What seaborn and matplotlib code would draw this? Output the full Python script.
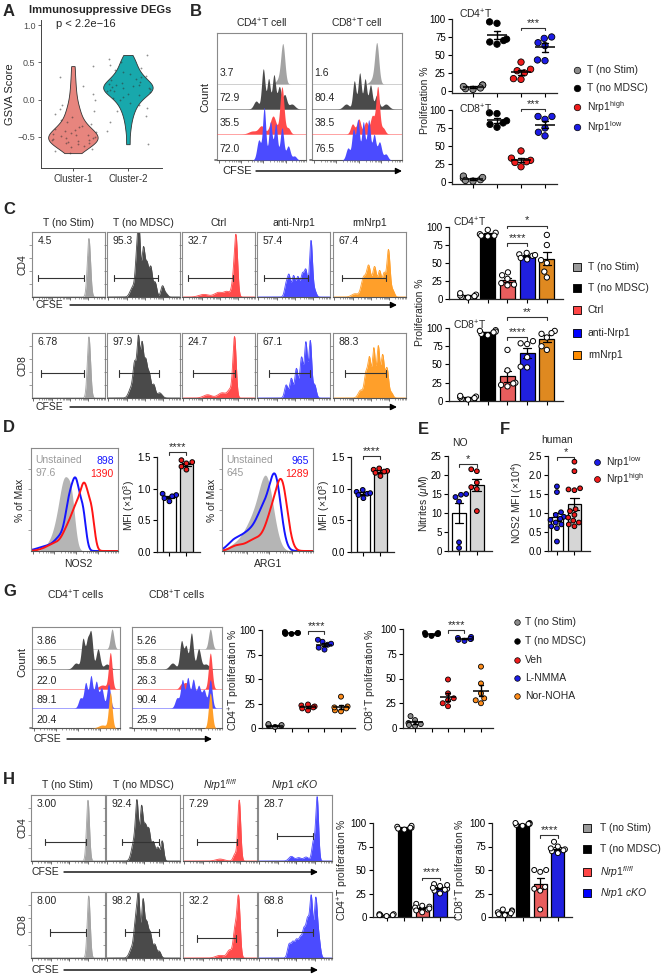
import warnings
warnings.filterwarnings('ignore')
import numpy as np
import pandas as pd
import matplotlib
matplotlib.use('Agg')
import matplotlib.pyplot as plt
import seaborn as sns

# ====================== DATA ======================
A_clusters = ['Cluster-1', 'Cluster-2']
A_cluster1 = [-0.72, -0.69, -0.66, -0.64, -0.62, -0.6, -0.59, -0.58, -0.57, -0.56, -0.55, -0.54,
              -0.53, -0.52, -0.51, -0.5, -0.49, -0.48, -0.47, -0.46, -0.45, -0.44, -0.42, -0.41,
              -0.39, -0.37, -0.35, -0.33, -0.3, -0.27, -0.24, -0.2, -0.16, -0.12, -0.07, 0.0,
              0.08, 0.18, 0.3, 0.45]
A_cluster2 = [-0.6, -0.42, -0.3, -0.22, -0.16, -0.11, -0.07, -0.04, -0.01, 0.02, 0.04, 0.06,
              0.08, 0.1, 0.11, 0.12, 0.13, 0.14, 0.15, 0.16, 0.17, 0.18, 0.19, 0.2, 0.21, 0.22,
              0.24, 0.26, 0.28, 0.3, 0.32, 0.34, 0.37, 0.4, 0.43, 0.47, 0.51, 0.55, 0.6]

B_groups = ['T (no Stim)', 'T (no MDSC)', 'Nrp1high', 'Nrp1low']
B_cd4 = [[8, 3, 2, 6, 8, 4], [65, 72, 70, 68, 94, 96], [30, 40, 28, 25, 16, 17], [73, 75, 42, 67, 63, 43]]
B_cd8 = [[3, 6, 1, 5, 8, 2], [76, 95, 96, 82, 85, 80], [43, 33, 30, 27, 21, 28], [91, 87, 91, 75, 64, 69]]
B_flow_numbers = [['3.7', '72.9', '35.5', '72.0'], ['1.6', '80.4', '38.5', '76.5']]
B_flow_peaks = [
    [[(0.74, 38, 0.02), (0.70, 5, 0.03)],
     [(0.44, 8, 0.025), (0.52, 40, 0.017), (0.58, 30, 0.016), (0.64, 34, 0.017), (0.70, 22, 0.018), (0.76, 14, 0.02), (0.84, 5, 0.03)],
     [(0.40, 3, 0.04), (0.50, 8, 0.03), (0.63, 18, 0.03), (0.73, 47, 0.02), (0.80, 6, 0.02)],
     [(0.47, 20, 0.02), (0.53, 52, 0.016), (0.60, 38, 0.017), (0.66, 36, 0.017), (0.73, 32, 0.018), (0.80, 14, 0.02), (0.87, 4, 0.02)]],
    [[(0.72, 39, 0.02), (0.68, 5, 0.03)],
     [(0.38, 5, 0.03), (0.47, 28, 0.016), (0.53, 36, 0.016), (0.59, 30, 0.016), (0.65, 24, 0.017), (0.72, 14, 0.02), (0.82, 5, 0.03)],
     [(0.45, 10, 0.02), (0.52, 15, 0.02), (0.60, 12, 0.02), (0.67, 18, 0.02), (0.73, 47, 0.018), (0.79, 6, 0.02)],
     [(0.40, 12, 0.02), (0.46, 30, 0.016), (0.51, 40, 0.016), (0.57, 38, 0.016), (0.63, 40, 0.017), (0.69, 25, 0.017), (0.75, 18, 0.02), (0.82, 6, 0.02)]],
]

C_titles = ['T (no Stim)', 'T (no MDSC)', 'Ctrl', 'anti-Nrp1', 'rmNrp1']
C_groups = ['T (no Stim)', 'T (no MDSC)', 'Ctrl', 'anti-Nrp1', 'rmNrp1']
C_cd4 = [[3, 5, 8, 2, 6, 4], [96, 92, 90, 88, 87, 88], [37, 33, 20, 19, 28, 22], [62, 64, 57, 60, 55, 61], [89, 75, 54, 50, 38, 30]]
C_cd8 = [[3, 5, 6, 4, 2, 7], [97, 95, 92, 94, 90, 96], [70, 42, 25, 20, 22, 24], [82, 78, 79, 46, 47, 60], [96, 93, 92, 87, 75, 70]]
C_numbers = [['4.5', '95.3', '32.7', '57.4', '67.4'], ['6.78', '97.9', '24.7', '67.1', '88.3']]
C_gates = [[(0.08, 0.71), (0.10, 0.70), (0.08, 0.70), (0.09, 0.70), (0.12, 0.72)],
           [(0.13, 0.71), (0.16, 0.71), (0.15, 0.72), (0.16, 0.72), (0.17, 0.72)]]
C_gate_y = [0.29, 0.38]
C_peaks = [
    [[(0.78, 0.90, 0.02)],
     [(0.35, 0.15, 0.03), (0.41, 0.6, 0.02), (0.44, 0.86, 0.017), (0.50, 0.75, 0.02), (0.55, 0.45, 0.018), (0.60, 0.45, 0.02), (0.66, 0.22, 0.02), (0.76, 0.17, 0.02), (0.81, 0.05, 0.02)],
     [(0.30, 0.04, 0.06), (0.50, 0.07, 0.05), (0.62, 0.08, 0.04), (0.70, 0.2, 0.02), (0.74, 0.92, 0.02)],
     [(0.40, 0.2, 0.02), (0.44, 0.3, 0.018), (0.50, 0.32, 0.02), (0.56, 0.3, 0.02), (0.62, 0.33, 0.02), (0.67, 0.4, 0.02), (0.74, 0.86, 0.018), (0.79, 0.1, 0.02)],
     [(0.30, 0.05, 0.04), (0.42, 0.3, 0.03), (0.49, 0.45, 0.025), (0.57, 0.46, 0.025), (0.64, 0.38, 0.02), (0.70, 0.35, 0.02), (0.76, 0.72, 0.02), (0.82, 0.1, 0.02)]],
    [[(0.78, 0.94, 0.02)],
     [(0.33, 0.15, 0.03), (0.38, 0.5, 0.02), (0.43, 0.89, 0.017), (0.48, 0.8, 0.018), (0.53, 0.55, 0.02), (0.58, 0.35, 0.02), (0.64, 0.2, 0.02), (0.72, 0.08, 0.03)],
     [(0.35, 0.05, 0.05), (0.55, 0.08, 0.05), (0.66, 0.12, 0.03), (0.72, 0.92, 0.02)],
     [(0.40, 0.2, 0.02), (0.47, 0.3, 0.02), (0.54, 0.45, 0.02), (0.61, 0.62, 0.02), (0.67, 0.84, 0.018), (0.73, 0.87, 0.018), (0.79, 0.2, 0.02)],
     [(0.38, 0.12, 0.03), (0.45, 0.35, 0.02), (0.50, 0.6, 0.02), (0.56, 0.75, 0.018), (0.62, 0.78, 0.018), (0.68, 0.65, 0.02), (0.74, 0.45, 0.02), (0.80, 0.08, 0.02)]],
]

D_groups = ['Nrp1low', 'Nrp1high']
D_nos2 = [[0.90, 0.88, 0.92, 0.85, 0.80], [1.45, 1.40, 1.35, 1.30, 1.42]]
D_arg1 = [[0.98, 0.95, 0.92, 0.90, 0.85, 0.93], [1.32, 1.30, 1.28, 1.25, 1.20, 1.27]]
D_nos2_hist = [[(0.20, 0.05, 0.05), (0.30, 0.2, 0.05), (0.39, 0.62, 0.05), (0.47, 0.35, 0.035)],
               [(0.20, 0.05, 0.1), (0.35, 0.12, 0.06), (0.44, 0.38, 0.04), (0.52, 0.6, 0.04), (0.60, 0.3, 0.03)],
               [(0.30, 0.08, 0.1), (0.42, 0.15, 0.05), (0.52, 0.35, 0.05), (0.62, 0.57, 0.045), (0.70, 0.25, 0.03)]]
D_arg1_hist = [[(0.20, 0.08, 0.1), (0.35, 0.25, 0.08), (0.49, 0.65, 0.07)],
               [(0.12, 0.06, 0.06), (0.30, 0.18, 0.1), (0.47, 0.35, 0.07), (0.59, 0.62, 0.055)],
               [(0.15, 0.04, 0.06), (0.38, 0.12, 0.1), (0.55, 0.3, 0.06), (0.66, 0.6, 0.055)]]
D_nos2_text = ['97.6', '898', '1390']
D_arg1_text = ['645', '965', '1289']

E_low = [15.0, 14.2, 14.8, 13.0, 2.3, 0.8]
E_high = [21.5, 21.0, 18.0, 16.8, 16.3, 10.5]
F_low = [1.7, 1.55, 1.02, 0.95, 0.9, 0.85, 0.82, 0.75, 0.7, 0.65, 0.6, 0.25]
F_high = [2.35, 2.1, 1.62, 1.6, 1.65, 1.1, 1.05, 0.95, 0.88, 0.8, 0.75, 0.7, 0.65]

G_groups = ['T (no Stim)', 'T (no MDSC)', 'Veh', 'L-NMMA', 'Nor-NOHA']
G_cd4 = [[2, 3, 1, 4, 2, 3], [97, 97, 96, 98, 97, 96], [22, 24, 23, 21, 18, 20], [90, 88, 85, 82, 80, 86], [32, 22, 20, 18, 17, 21]]
G_cd8 = [[12, 8, 5, 3, 2, 4], [95, 96, 94, 95, 93, 96], [49, 35, 30, 28, 25, 22], [92, 91, 90, 89, 90, 88], [62, 45, 35, 30, 28, 25]]
G_flow_numbers = [['3.86', '96.5', '22.0', '89.1', '20.4'], ['5.26', '95.8', '26.3', '90.4', '25.9']]
G_flow_peaks = [
    [[(0.91, 20, 0.018)],
     [(0.50, 6, 0.03), (0.58, 30, 0.018), (0.63, 25, 0.016), (0.67, 36, 0.018), (0.75, 20, 0.02), (0.85, 5, 0.03)],
     [(0.80, 4, 0.04), (0.89, 36, 0.018)],
     [(0.55, 10, 0.02), (0.61, 25, 0.018), (0.67, 32, 0.018), (0.73, 26, 0.018), (0.79, 20, 0.02), (0.87, 24, 0.018)],
     [(0.80, 3, 0.04), (0.89, 35, 0.018)]],
    [[(0.87, 20, 0.018)],
     [(0.45, 6, 0.03), (0.55, 28, 0.018), (0.60, 22, 0.016), (0.66, 36, 0.018), (0.74, 20, 0.02), (0.82, 5, 0.03)],
     [(0.55, 5, 0.02), (0.60, 6, 0.02), (0.87, 36, 0.018)],
     [(0.50, 10, 0.02), (0.56, 28, 0.018), (0.62, 30, 0.018), (0.68, 28, 0.018), (0.74, 22, 0.02), (0.80, 18, 0.02), (0.87, 28, 0.018)],
     [(0.87, 35, 0.018)]],
]

H_titles = ['T (no Stim)', 'T (no MDSC)', r'$\mathit{Nrp1}^{\mathit{fl/fl}}$', r'$\mathit{Nrp1\ cKO}$']
H_groups = ['T (no Stim)', 'T (no MDSC)', 'Nrp1fl/fl', 'Nrp1 cKO']
H_cd4 = [[2, 3, 1, 2, 3, 2], [96, 95, 93, 97, 94, 95], [14, 12, 10, 8, 5, 11, 9, 7], [35, 33, 30, 28, 25, 34, 31, 29]]
H_cd8 = [[8, 5, 3, 2, 7, 6, 4], [100, 99, 98, 100, 97, 99], [50, 50, 48, 30, 32, 28, 8], [80, 75, 72, 70, 68, 73, 71]]
H_numbers = [['3.00', '92.4', '7.29', '28.7'], ['8.00', '98.2', '32.2', '68.8']]
H_gates = [[(0.19, 0.74), (0.21, 0.71), (0.19, 0.73), (0.26, 0.74)],
           [(0.25, 0.74), (0.26, 0.71), (0.19, 0.72), (0.26, 0.74)]]
H_gate_y = [[0.29, 0.29, 0.29, 0.38], [0.39, 0.39, 0.30, 0.39]]
H_peaks = [
    [[(0.77, 0.92, 0.018)],
     [(0.38, 0.3, 0.03), (0.42, 0.77, 0.018), (0.48, 0.79, 0.018), (0.53, 0.5, 0.02), (0.58, 0.45, 0.02), (0.64, 0.28, 0.02), (0.70, 0.2, 0.02), (0.76, 0.3, 0.018)],
     [(0.50, 0.03, 0.05), (0.70, 0.1, 0.02), (0.76, 0.92, 0.018)],
     [(0.45, 0.07, 0.03), (0.55, 0.05, 0.03), (0.65, 0.06, 0.03), (0.75, 0.3, 0.02), (0.80, 0.95, 0.017)]],
    [[(0.78, 0.94, 0.018)],
     [(0.35, 0.15, 0.03), (0.40, 0.5, 0.02), (0.44, 0.9, 0.017), (0.50, 0.85, 0.018), (0.55, 0.5, 0.02), (0.60, 0.35, 0.02), (0.66, 0.2, 0.02), (0.72, 0.1, 0.02)],
     [(0.50, 0.04, 0.05), (0.63, 0.12, 0.03), (0.70, 0.4, 0.02), (0.75, 0.92, 0.02)],
     [(0.42, 0.2, 0.02), (0.47, 0.22, 0.02), (0.52, 0.25, 0.02), (0.57, 0.28, 0.02), (0.62, 0.4, 0.02), (0.67, 0.55, 0.02), (0.72, 0.9, 0.018), (0.78, 0.85, 0.018), (0.82, 0.3, 0.02)]],
]

# ====================== STYLE ======================
sns.set_theme(style='ticks')
plt.rcParams['font.family'] = ['Liberation Sans', 'DejaVu Sans']
plt.rcParams['mathtext.fontset'] = 'custom'
plt.rcParams['mathtext.rm'] = 'Liberation Sans'
plt.rcParams['mathtext.it'] = 'Liberation Sans:italic'
plt.rcParams['mathtext.bf'] = 'Liberation Sans:bold'
plt.rcParams['axes.linewidth'] = 0.9

W, H = 661, 977
fig = plt.figure(figsize=(W / 100, H / 100), dpi=100)

GRAY, DARK, RED, BLUE, ORANGE = '#a3a3a3', '#4a4a4a', '#ff4b4b', '#4b4bff', '#ff9f2a'
DOT_GRAY, DOT_RED, DOT_BLUE, DOT_ORANGE = '#8c8c8c', '#ee1c1c', '#1c1ce6', '#ff8c1a'
BAR_COLS = ['#9a9a9a', '#000000', '#ff4646', '#0000ff', '#ff8c00']
TS = 7
WSCALE = 1.12  # rendering smoothness of flow peaks


def ax_px(l, t, r, b):
    return fig.add_axes([l / W, 1 - b / H, (r - l) / W, (b - t) / H])


def long(groups, values):
    rows = [(g, v) for g, vals in zip(groups, values) for v in vals]
    return pd.DataFrame(rows, columns=['grp', 'val'])


XG = np.linspace(0, 1, 600)


def curve(peaks):
    y = np.zeros_like(XG)
    for c, h, w in peaks:
        w = w * WSCALE
        y = y + h * np.exp(-0.5 * ((XG - c) / w) ** 2)
    return y


DEC = [0.02, 0.27, 0.52, 0.77]
MINOR = [d + 0.25 * np.log10(k) for d in DEC for k in range(2, 10) if d + 0.25 * np.log10(k) < 1]


def flow_ax(l, t, r, b, left_ticks=True):
    ax = ax_px(l, t, r, b)
    ax.set_xlim(0, 1)
    for s in ax.spines.values():
        s.set_color('#8a8a8a')
        s.set_linewidth(0.8)
    ax.spines['bottom'].set_color('#555555')
    ax.set_xticks(DEC)
    ax.set_xticks(MINOR, minor=True)
    ax.tick_params(axis='x', which='major', length=2.5, width=0.6, labelbottom=False, color='#555555')
    ax.tick_params(axis='x', which='minor', length=1.3, width=0.4, color='#555555')
    ax.set_yticks([0.2, 0.4, 0.6, 0.8] if left_ticks else [])
    ax.tick_params(axis='y', length=2, width=0.5, labelleft=False, color='#777777')
    ax.patch.set_facecolor('white')
    return ax


def single_flow(l, t, r, b, peaks, color, number, gate, gy):
    ax = flow_ax(l, t, r, b)
    ax.set_ylim(0, 1)
    ax.fill_between(XG, 0, curve(peaks), color=color, lw=0)
    ax.plot(XG, curve(peaks), color=color, lw=0.6)
    x1, x2 = gate
    ax.plot([x1, x2], [gy, gy], color='#333333', lw=0.8)
    ax.plot([x1, x1], [gy - 0.05, gy + 0.05], color='#333333', lw=0.8)
    ax.plot([x2, x2], [gy - 0.05, gy + 0.05], color='#333333', lw=0.8)
    ax.text(0.08, 0.86, number, transform=ax.transAxes, fontsize=7.5, va='center', ha='left')
    return ax


def stacked_flow(l, t, r, b, peaks_list, colors, numbers, baselines, top, tx, toff, fs):
    ax = flow_ax(l, t, r, b)
    ax.set_ylim(0, top)
    for i, (pk, col, base, num) in enumerate(zip(peaks_list, colors, baselines, numbers)):
        y = curve(pk)
        ax.plot([0, 1], [base, base], color=col, lw=0.6, alpha=0.6, zorder=2 + 2 * i)
        ax.fill_between(XG, base, base + y, color=col, lw=0, zorder=3 + 2 * i)
        ax.text(tx, base + toff, num, fontsize=fs, va='center', ha='left', zorder=20)
    return ax


def prism(ax, ylim, yticks, xlim, fmt=None, labels=None):
    sns.despine(ax=ax)
    ax.set_ylim(*ylim)
    ax.set_yticks(yticks)
    if labels is not None:
        ax.set_yticklabels(labels)
    ax.set_xlim(*xlim)
    ax.set_xlabel('')
    ax.set_ylabel('')
    ax.tick_params(labelsize=TS, length=3, width=0.8, pad=1.5, labelbottom=False, colors='black')
    ax.patch.set_alpha(0)


def dotpanel(ax, groups, values, cols, size, mw):
    df = long(groups, values)
    sns.swarmplot(data=df, x='grp', y='val', hue='grp', order=groups, hue_order=groups,
                  palette=cols, edgecolor='black', linewidth=0.6, size=size, legend=False,
                  ax=ax, clip_on=False, zorder=3)
    sns.pointplot(data=df, x='grp', y='val', order=groups, errorbar='se', color='black',
                  markers='_', markersize=mw, markeredgewidth=1.1, linestyle='none',
                  capsize=0.25, err_kws={'linewidth': 1.0}, ax=ax, zorder=4)


def barpanel(ax, groups, values, bar_cols, dot_cols, size, width=0.76, cap=0.4):
    df = long(groups, values)
    sns.barplot(data=df, x='grp', y='val', hue='grp', order=groups, hue_order=groups,
                palette=bar_cols, errorbar='se', capsize=cap,
                err_kws={'color': 'black', 'linewidth': 0.9}, edgecolor='black',
                linewidth=0.9, width=width, legend=False, ax=ax)
    sns.swarmplot(data=df, x='grp', y='val', hue='grp', order=groups, hue_order=groups,
                  palette=dot_cols, edgecolor='black', linewidth=0.7, size=size, legend=False,
                  ax=ax, clip_on=False, zorder=5)


def bracket(ax, x1, x2, y, h, text, fs=8):
    ax.plot([x1, x1, x2, x2], [y - h, y, y, y - h], color='#333333', lw=0.8, clip_on=False)
    ax.text((x1 + x2) / 2, y, text, ha='center', va='bottom', fontsize=fs, clip_on=False)


# ====================== PANEL A ======================
axA = ax_px(41, 20, 162, 168)
dfA = long(A_clusters, [A_cluster1, A_cluster2])
sns.violinplot(data=dfA, x='grp', y='val', hue='grp', order=A_clusters, hue_order=A_clusters,
               palette=['#F8766D', '#00BFC4'], cut=0, inner=None, linewidth=0.6,
               linecolor='#333333', width=0.9, density_norm='width', bw_adjust=0.7,
               legend=False, ax=axA)
sns.stripplot(data=dfA, x='grp', y='val', order=A_clusters, color='#333333', size=1.3,
              jitter=0.42, alpha=0.55, ax=axA, zorder=4)
axA.set_ylim(-0.92, 1.07)
axA.set_xlim(-0.58, 1.62)
axA.set_yticks([-0.5, 0.0, 0.5, 1.0])
axA.set_yticklabels(['\u22120.5', '0.0', '0.5', '1.0'])
axA.set_xlabel('')
axA.set_ylabel('GSVA Score', fontsize=8, labelpad=2)
sns.despine(ax=axA)
axA.tick_params(labelsize=6.5, length=2.5, width=0.6, pad=1.5, colors='#4d4d4d')
axA.tick_params(axis='x', labelsize=7, colors='#333333')
for s in ['left', 'bottom']:
    axA.spines[s].set_color('#444444')
    axA.spines[s].set_linewidth(0.7)
axA.patch.set_alpha(0)

# ====================== PANEL B ======================
B_boxes = [(217, 33, 306, 160), (312, 33, 402, 160)]
for bi, (l, t, r, b) in enumerate(B_boxes):
    stacked_flow(l, t, r, b, B_flow_peaks[bi], [GRAY, DARK, RED, BLUE], B_flow_numbers[bi],
                 [76, 51, 26, 0], 127, 0.03, 11, 7.5)

B_dot_cols = [DOT_GRAY, 'black', DOT_RED, DOT_BLUE]
axB1 = ax_px(452, 19, 557, 93)
dotpanel(axB1, B_groups, B_cd4, B_dot_cols, 4.6, 15)
prism(axB1, (-3, 100), [0, 25, 50, 75, 100], (-0.875, 3.5))
bracket(axB1, 2, 3, 88, 3, '***')
axB2 = ax_px(452, 110, 557, 184)
dotpanel(axB2, B_groups, B_cd8, B_dot_cols, 4.6, 15)
prism(axB2, (-3, 100), [0, 25, 50, 75, 100], (-0.875, 3.5))
bracket(axB2, 2, 3, 101, 3, '***')

# ====================== PANEL C ======================
C_x = [32, 107, 182, 257, 333]
C_rows = [(232, 297), (333, 398)]
C_cols = [GRAY, DARK, RED, BLUE, ORANGE]
for ri, (t, b) in enumerate(C_rows):
    for ci, l in enumerate(C_x):
        single_flow(l, t, l + 73, b, C_peaks[ri][ci], C_cols[ci], C_numbers[ri][ci],
                    C_gates[ri][ci], C_gate_y[ri])

axC1 = ax_px(449, 227, 563, 299)
barpanel(axC1, C_groups, C_cd4, BAR_COLS, ['white'] * 5, 3.8)
prism(axC1, (0, 100), [0, 25, 50, 75, 100], (-0.97, 4.82))
bracket(axC1, 2, 4, 102, 4, '*')
bracket(axC1, 2, 3, 78, 4, '****')
axC2 = ax_px(449, 328, 563, 401)
barpanel(axC2, C_groups, C_cd8, BAR_COLS, ['white'] * 5, 3.8)
prism(axC2, (0, 100), [0, 25, 50, 75, 100], (-0.97, 4.82))
bracket(axC2, 2, 4, 115, 4, '**')
bracket(axC2, 2, 3, 88, 4, '****')

# ====================== PANEL D ======================
def mfi_hist(l, t, r, b, hists, texts):
    ax = flow_ax(l, t, r, b)
    ax.set_ylim(0, 1)
    ax.fill_between(XG, 0, curve(hists[0]), color='#b5b5b5', lw=0)
    ax.plot(XG, curve(hists[1]), color='#1515ff', lw=1.4)
    ax.plot(XG, curve(hists[2]), color='#ff1515', lw=1.4)
    ax.text(0.05, 0.88, 'Unstained', color='#9a9a9a', fontsize=7.5, transform=ax.transAxes, va='center')
    ax.text(0.05, 0.76, texts[0], color='#9a9a9a', fontsize=7.5, transform=ax.transAxes, va='center')
    ax.text(0.95, 0.87, texts[1], color='#1515ff', fontsize=7.5, transform=ax.transAxes, va='center', ha='right')
    ax.text(0.95, 0.75, texts[2], color='#ff1515', fontsize=7.5, transform=ax.transAxes, va='center', ha='right')
    return ax

mfi_hist(31, 448, 118, 551, D_nos2_hist, D_nos2_text)
mfi_hist(222, 448, 313, 551, D_arg1_hist, D_arg1_text)

axD1 = ax_px(157, 457, 200, 552)
barpanel(axD1, D_groups, D_nos2, ['white', '#d6d6d6'], [DOT_BLUE, DOT_RED], 3.4, width=0.76, cap=0.5)
prism(axD1, (0, 1.5), [0, 0.5, 1.0, 1.5], (-0.73, 1.8), labels=['0.0', '0.5', '1.0', '1.5'])
bracket(axD1, 0, 1, 1.58, 0.05, '****')
axD2 = ax_px(351, 457, 394, 552)
barpanel(axD2, D_groups, D_arg1, ['white', '#d6d6d6'], [DOT_BLUE, DOT_RED], 3.4, width=0.76, cap=0.5)
prism(axD2, (0, 1.5), [0, 0.5, 1.0, 1.5], (-0.73, 1.8), labels=['0.0', '0.5', '1.0', '1.5'])
bracket(axD2, 0, 1, 1.52, 0.05, '****')

# ====================== PANEL E ======================
axE = ax_px(448, 456, 492, 551)
barpanel(axE, D_groups, [E_low, E_high], ['white', '#d6d6d6'], [DOT_BLUE, DOT_RED], 3.4, width=0.76, cap=0.5)
prism(axE, (0, 25), [0, 5, 10, 15, 20, 25], (-0.62, 1.85))
bracket(axE, 0, 1, 23, 0.8, '*')

# ====================== PANEL F ======================
axF = ax_px(548, 456, 590, 551)
barpanel(axF, D_groups, [F_low, F_high], ['white', '#d6d6d6'], [DOT_BLUE, DOT_RED], 3.4, width=0.72, cap=0.5)
prism(axF, (0, 2.5), [0, 0.5, 1.0, 1.5, 2.0, 2.5], (-0.51, 1.89),
      labels=['0.0', '0.5', '1.0', '1.5', '2.0', '2.5'])
bracket(axF, 0, 1, 2.48, 0.08, '*')

# ====================== PANEL G ======================
G_boxes = [(32, 627, 120, 728), (132, 627, 222, 728)]
for bi, (l, t, r, b) in enumerate(G_boxes):
    stacked_flow(l, t, r, b, G_flow_peaks[bi], [GRAY, DARK, RED, BLUE, ORANGE], G_flow_numbers[bi],
                 [79, 59, 39, 20, 0], 101, 0.05, 8, 7.5)

G_dot_cols = [DOT_GRAY, 'black', DOT_RED, DOT_BLUE, DOT_ORANGE]
axG1 = ax_px(262, 630, 355, 728)
dotpanel(axG1, G_groups, G_cd4, G_dot_cols, 3.6, 11)
prism(axG1, (0, 100), [0, 25, 50, 75, 100], (-0.79, 4.85))
bracket(axG1, 2, 3, 99, 3, '****')
axG2 = ax_px(403, 629, 493, 728)
dotpanel(axG2, G_groups, G_cd8, G_dot_cols, 3.6, 11)
prism(axG2, (0, 100), [0, 25, 50, 75, 100], (-0.73, 4.73))
bracket(axG2, 2, 3, 99, 3, '****')

# ====================== PANEL H ======================
H_x = [31, 106, 183, 258]
H_rows = [(795, 861), (892, 958)]
H_cols = [GRAY, DARK, RED, BLUE]
for ri, (t, b) in enumerate(H_rows):
    for ci, l in enumerate(H_x):
        single_flow(l, t, l + 74, b, H_peaks[ri][ci], H_cols[ci], H_numbers[ri][ci],
                    H_gates[ri][ci], H_gate_y[ri][ci])

axH1 = ax_px(373, 823, 455, 917)
barpanel(axH1, H_groups, H_cd4, BAR_COLS[:4], ['white'] * 4, 3.6, width=0.74)
prism(axH1, (0, 100), [0, 25, 50, 75, 100], (-0.76, 3.84))
bracket(axH1, 2, 3, 42, 3, '****')
axH2 = ax_px(492, 823, 572, 917)
barpanel(axH2, H_groups, H_cd8, BAR_COLS[:4], ['white'] * 4, 3.6, width=0.74)
prism(axH2, (0, 100), [0, 25, 50, 75, 100], (-0.73, 3.8))
bracket(axH2, 2, 3, 87, 3, '****')

# ====================== OVERLAY (text, arrows, legends) ======================
ov = fig.add_axes([0, 0, 1, 1])
ov.set_xlim(0, W)
ov.set_ylim(H, 0)
ov.axis('off')
ov.set_zorder(50)


def T(x, y, s, fs=7.5, **kw):
    kw.setdefault('ha', 'center')
    kw.setdefault('va', 'center')
    ov.text(x, y, s, fontsize=fs, **kw)


def arrow(x1, x2, y):
    ov.annotate('', xy=(x2, y), xytext=(x1, y),
                arrowprops=dict(arrowstyle='-|>', color='black', lw=1.0, mutation_scale=9,
                                shrinkA=0, shrinkB=0))


# letters
for lt, (x, y) in zip('ABCDEFGH', [(3, 12), (190, 12), (3, 210), (3, 428), (418, 429),
                                    (500, 429), (3, 592), (3, 780)]):
    T(x, y, lt, fs=12, weight='bold', ha='left')

# A
T(100, 10, 'Immunosuppressive DEGs', fs=8, weight='bold')
T(86, 24, 'p < 2.2e\u221216', fs=8)

# B
T(262, 23, r'CD4$^{+}$T cell', fs=7.5)
T(357, 23, r'CD8$^{+}$T cell', fs=7.5)
T(205, 97, 'Count', fs=8, rotation=90)
T(222, 171, 'CFSE', fs=8, ha='left')
arrow(256, 402, 171)
T(459, 14, r'CD4$^{+}$T', fs=7.5, ha='left')
T(459, 109, r'CD8$^{+}$T', fs=7.5, ha='left')
T(425, 100, 'Proliferation %', fs=7.5, rotation=90)
for (lab, col), y in zip([('T (no Stim)', DOT_GRAY), ('T (no MDSC)', 'black'),
                          (r'Nrp1$^{\mathregular{high}}$', DOT_RED), (r'Nrp1$^{\mathregular{low}}$', DOT_BLUE)],
                         [70, 88, 107, 127]):
    ov.scatter([577], [y], s=22, color=col, edgecolor='black', linewidth=0.5)
    T(587, y, lab, fs=7.5, ha='left')

# C
for ci, l in enumerate(C_x):
    T(l + 36.5, 223, C_titles[ci], fs=7.5)
T(22, 265, 'CD4', fs=7.5, rotation=90)
T(22, 366, 'CD8', fs=7.5, rotation=90)
T(36, 305, 'CFSE', fs=7.5, ha='left')
arrow(70, 397, 305)
T(36, 407, 'CFSE', fs=7.5, ha='left')
arrow(70, 397, 407)
T(453, 222, r'CD4$^{+}$T', fs=7.5, ha='left')
T(453, 325, r'CD8$^{+}$T', fs=7.5, ha='left')
T(420, 312, 'Proliferation %', fs=7.5, rotation=90)
for lab, col, y in zip(C_groups, BAR_COLS, [267, 288, 310, 333, 355]):
    ov.scatter([577], [y], s=28, marker='s', color=col, edgecolor='black', linewidth=0.6)
    T(588, y, lab, fs=7.5, ha='left')

# D
T(20, 500, '% of Max', fs=7.5, rotation=90)
T(78, 564, 'NOS2', fs=7.5)
T(212, 500, '% of Max', fs=7.5, rotation=90)
T(268, 564, 'ARG1', fs=7.5)
T(129, 505, r'MFI ($\times$10$^{3}$)', fs=7.5, rotation=90)
T(324, 505, r'MFI ($\times$10$^{3}$)', fs=7.5, rotation=90)

# E
T(460, 443, 'NO', fs=7.5)
T(424, 503, r'Nitrites ($\mu$M)', fs=7.5, rotation=90)

# F
T(557, 440, 'human', fs=7.5)
T(517, 503, r'NOS2 MFI ($\times$10$^{4}$)', fs=7.5, rotation=90)
for lab, col, y in zip([r'Nrp1$^{\mathregular{low}}$', r'Nrp1$^{\mathregular{high}}$'], [DOT_BLUE, DOT_RED], [462, 479]):
    ov.scatter([597], [y], s=18, color=col, edgecolor='black', linewidth=0.5)
    T(606, y, lab, fs=7.5, ha='left')

# G
T(76, 595, r'CD4$^{+}$T cells', fs=7.5)
T(177, 595, r'CD8$^{+}$T cells', fs=7.5)
T(22, 662, 'Count', fs=8, rotation=90)
T(34, 739, 'CFSE', fs=7.5, ha='left')
arrow(67, 212, 739)
T(234, 680, r'CD4$^{+}$T proliferation %', fs=7.5, rotation=90)
T(371, 680, r'CD8$^{+}$T proliferation %', fs=7.5, rotation=90)
for lab, col, y in zip(G_groups, G_dot_cols, [622, 641, 660, 678, 696]):
    ov.scatter([517], [y], s=16, color=col, edgecolor='black', linewidth=0.5)
    T(525, y, lab, fs=7.5, ha='left')

# H
for ci, l in enumerate(H_x):
    T(l + 37, 785, H_titles[ci], fs=7.5)
T(22, 828, 'CD4', fs=7.5, rotation=90)
T(22, 925, 'CD8', fs=7.5, rotation=90)
T(32, 872, 'CFSE', fs=7.5, ha='left')
arrow(64, 318, 872)
T(32, 970, 'CFSE', fs=7.5, ha='left')
arrow(64, 318, 970)
T(343, 870, r'CD4$^{+}$T proliferation %', fs=7.5, rotation=90)
T(461, 870, r'CD8$^{+}$T proliferation %', fs=7.5, rotation=90)
for lab, col, y in zip(['T (no Stim)', 'T (no MDSC)', r'$\mathit{Nrp1}^{\mathit{fl/fl}}$', r'$\mathit{Nrp1\ cKO}$'],
                       BAR_COLS[:4], [828, 849, 872, 893]):
    ov.scatter([587], [y], s=28, marker='s', color=col, edgecolor='black', linewidth=0.6)
    T(600, y, lab, fs=7.5, ha='left')

fig.savefig('out.png', dpi=100)
